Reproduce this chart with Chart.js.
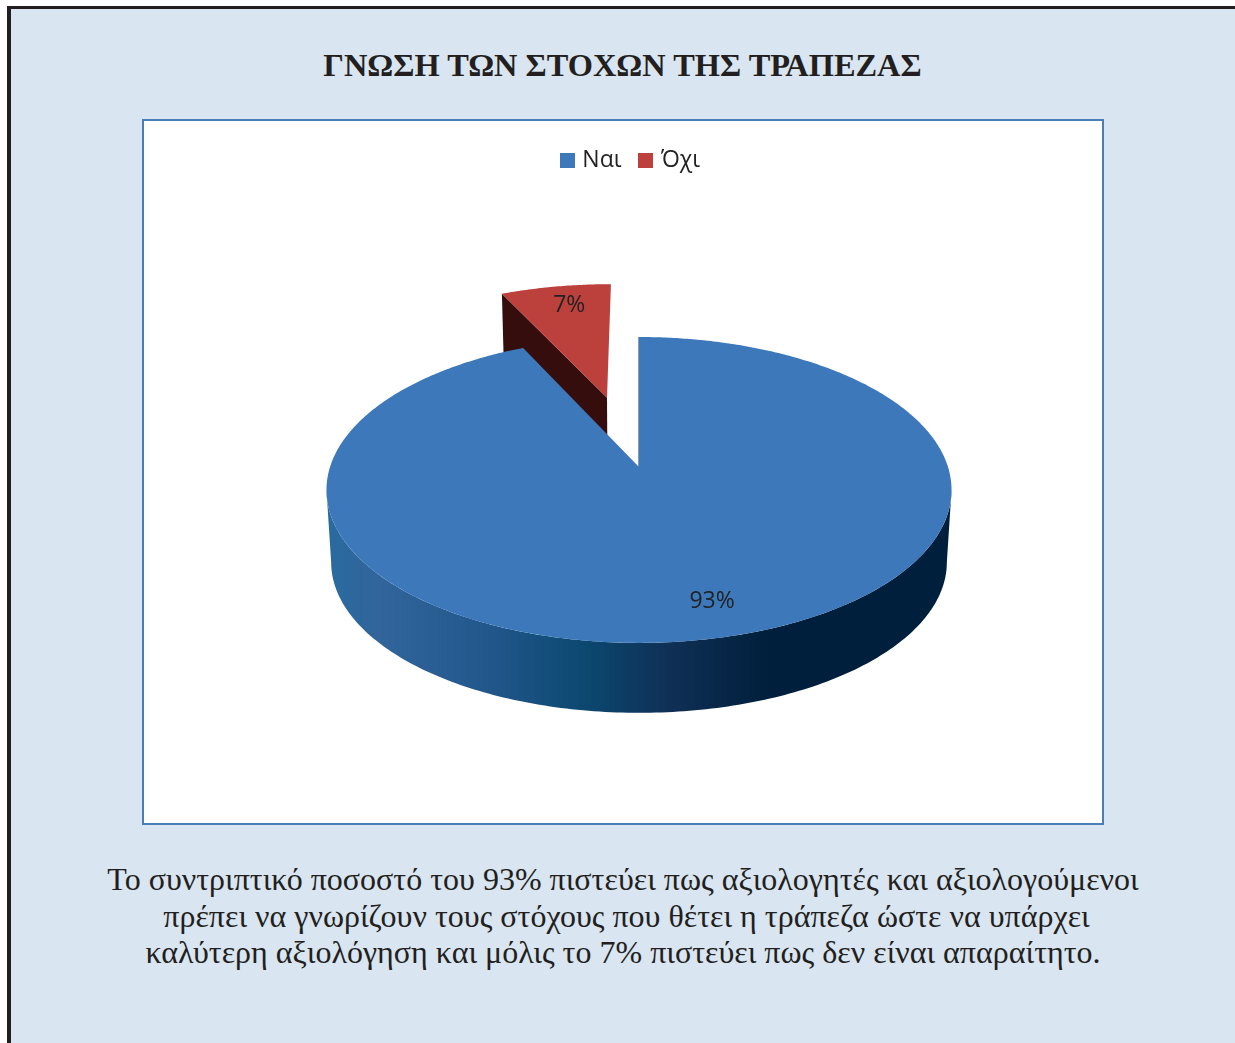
<!DOCTYPE html>
<html lang="el">
<head>
<meta charset="utf-8">
<script src="https://cdn.jsdelivr.net/npm/chart.js@4"></script>
<style>
html,body{margin:0;padding:0;background:#fff;width:1235px;height:1043px;overflow:hidden}
#panel{position:absolute;left:7px;top:6px;width:1228px;height:1037px;box-sizing:border-box;background:#d9e5f1;border-left:4px solid #231f20;border-top:3px solid #231f20}
#box{position:absolute;left:142px;top:119px;width:958px;height:702px;border:2px solid #4a7ebb;background:#fff}
canvas{display:block}
.t{position:absolute;white-space:nowrap;color:#231f20;font-family:"Liberation Serif",serif;left:0;width:1235px;text-align:center}
#title{top:45px;font-size:32.4px;font-weight:bold;line-height:40px;padding-left:10px;box-sizing:border-box}
.c{font-size:32px;line-height:36px;padding-left:11px;box-sizing:border-box}
</style>
</head>
<body>
<div id="panel"></div>
<div class="t" id="title">ΓΝΩΣΗ ΤΩΝ ΣΤΟΧΩΝ ΤΗΣ ΤΡΑΠΕΖΑΣ</div>
<div id="box"><canvas id="chart" width="958" height="702"></canvas></div>
<div class="t c" style="top:861px">Το συντριπτικό ποσοστό του 93% πιστεύει πως αξιολογητές και αξιολογούμενοι</div>
<div class="t c" style="top:898px;padding-left:18px">πρέπει να γνωρίζουν τους στόχους που θέτει η τράπεζα ώστε να υπάρχει</div>
<div class="t c" style="top:934px">καλύτερη αξιολόγηση και μόλις το 7% πιστεύει πως δεν είναι απαραίτητο.</div>
<script>
const categories = ["Ναι", "Όχι"];
const values = [93, 7];
const explode = [0, 0.51];
const colors = ["#3c78ba", "#bc403c"];
const sideColors = [null, "#350d0d"];
const labelRadius = [0.8, 0.835];
const labelNudgeX = [12, 6];

// Perspective of the tilted disc, in canvas pixels.
const view = {x: 495, y: 346, a: 309, b: 149.5, k: 0.15, lowerScale: 0.985, lowerDrop: 72.6};

function project(u, v, lower) {
  const s = lower ? view.lowerScale : 1, d = lower ? view.lowerDrop : 0, w = 1 + view.k * v;
  return {x: view.x + s * view.a * u / w, y: view.y + d - s * view.b * v / w};
}
function discPoint(theta, r, off, mid) {
  return [off * Math.sin(mid) + r * Math.sin(theta), off * Math.cos(mid) + r * Math.cos(theta)];
}
function polygon(ctx, pts) {
  ctx.beginPath();
  pts.forEach((p, i) => i ? ctx.lineTo(p.x, p.y) : ctx.moveTo(p.x, p.y));
  ctx.closePath();
}
function swatch(color) {
  const c = document.createElement("canvas");
  c.width = c.height = 15;
  const g = c.getContext("2d");
  g.fillStyle = color;
  g.fillRect(0, 0, 15, 15);
  return c;
}

const pie3d = {
  id: "pie3d",
  beforeDatasetDraw() { return false; },
  afterDatasetsDraw(chart) {
    const ctx = chart.ctx, arcs = chart.getDatasetMeta(0).data;
    const total = values.reduce((s, x) => s + x, 0);
    ctx.save();
    for (let i = arcs.length - 1; i >= 0; i--) {
      const t0 = arcs[i].startAngle + Math.PI / 2, t1 = arcs[i].endAngle + Math.PI / 2;
      const mid = (t0 + t1) / 2, off = explode[i];
      const at = (th, r, low) => { const p = discPoint(th, r, off, mid); return project(p[0], p[1], low); };
      if (sideColors[i]) {
        polygon(ctx, [at(t0, 0, false), at(t0, 1, false), at(t0, 1, true), at(t0, 0, true)]);
        ctx.fillStyle = sideColors[i]; ctx.fill();
      } else {
        const top = [], low = [];
        const from = Math.acos(-view.k), to = 2 * Math.PI - from;
        for (let j = 0; j <= 180; j++) {
          const th = from + (to - from) * j / 180;
          if (th < t0 || th > t1) continue;
          top.push(at(th, 1, false)); low.unshift(at(th, 1, true));
        }
        const g = ctx.createLinearGradient(view.x - 306, 0, view.x + 309, 0);
        [[0, "#2a6a9f"], [0.07, "#31659b"], [0.25, "#22578c"], [0.41, "#0b4870"], [0.55, "#0f2f55"], [0.71, "#001f3c"], [1, "#001f3c"]]
          .forEach(s => g.addColorStop(s[0], s[1]));
        polygon(ctx, top.concat(low));
        ctx.fillStyle = g; ctx.fill();
        const a = at(t0, 0, false), b = at(t0, 1, false);
        ctx.beginPath(); ctx.moveTo(a.x, a.y); ctx.lineTo(b.x, b.y);
        ctx.strokeStyle = "#17385c"; ctx.lineWidth = 1; ctx.stroke();
      }
      const face = [at(t0, 0, false)];
      const n = Math.ceil((t1 - t0) / 0.01);
      for (let j = 0; j <= n; j++) face.push(at(t0 + (t1 - t0) * j / n, 1, false));
      polygon(ctx, face);
      ctx.fillStyle = colors[i]; ctx.fill();
    }
    ctx.font = '23px "Open Sans"';
    ctx.fillStyle = "#222222";
    ctx.textAlign = "center";
    ctx.textBaseline = "middle";
    arcs.forEach((el, i) => {
      const mid = (el.startAngle + el.endAngle) / 2 + Math.PI / 2;
      const p = discPoint(mid, labelRadius[i], explode[i], mid);
      const q = project(p[0], p[1], false);
      ctx.fillText(Math.round(values[i] / total * 100) + "%", q.x + labelNudgeX[i], q.y + 2);
    });
    ctx.restore();
  }
};

new Chart(document.getElementById("chart"), {
  type: "pie",
  data: {labels: categories, datasets: [{data: values, backgroundColor: colors, borderWidth: 0}]},
  options: {
    responsive: false,
    animation: false,
    layout: {padding: {top: 7, left: 18}},
    plugins: {
      tooltip: {enabled: false},
      legend: {
        position: "top",
        labels: {
          boxWidth: 7, boxHeight: 15, padding: 21, color: "#222222", usePointStyle: true,
          font: {family: '"Open Sans"', size: 23},
          generateLabels(chart) {
            return Chart.overrides.pie.plugins.legend.labels.generateLabels(chart)
              .map((item, i) => Object.assign(item, {pointStyle: swatch(colors[i])}));
          }
        }
      }
    }
  },
  plugins: [pie3d]
});
</script>
</body>
</html>
